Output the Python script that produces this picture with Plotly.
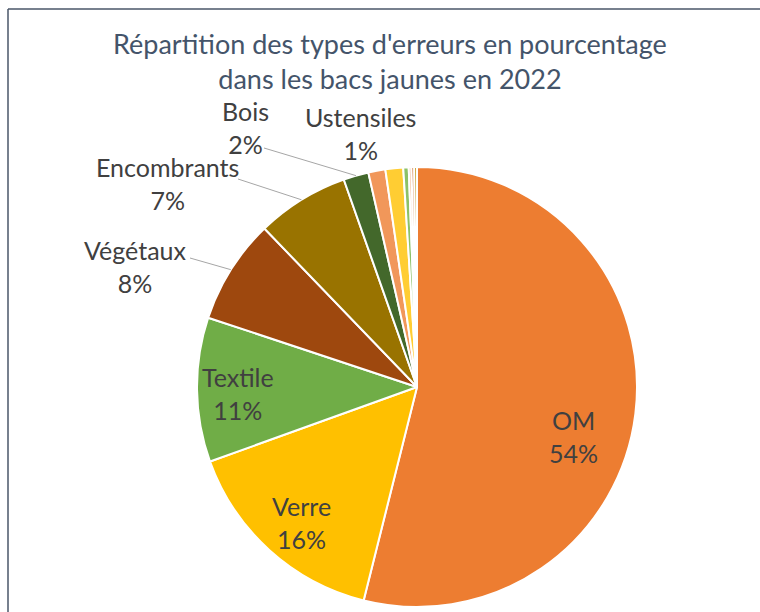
import math
import plotly.graph_objects as go

# ---- data ----
categories = ["OM", "Verre", "Textile", "Végétaux", "Encombrants", "Bois",
              "Ustensiles", "Autre 1", "Autre 2", "Autre 3", "Autre 4", "Autre 5"]
values = [53.9, 15.6, 10.6, 7.7, 6.8, 1.85, 1.25, 1.3, 0.4, 0.2, 0.2, 0.2]
labelled = ["OM", "Verre", "Textile", "Végétaux", "Encombrants", "Bois", "Ustensiles"]
title_lines = ["Répartition des types d'erreurs en pourcentage",
               "dans les bacs jaunes en 2022"]

# ---- style ----
W, H = 760, 612
colors = ["#ED7D31", "#FFC000", "#70AD47", "#9E480E", "#997300", "#43682B",
          "#F1975A", "#FFCD33", "#8CC168", "#F4B183", "#C55A11", "#BF9000"]
FONT = "Lato"
CX, CY, R = 417, 387, 220          # pie centre / radius in px
# label anchor positions (px) and leader-line start (px) for labelled slices
label_pos = {"OM": (573, 436), "Verre": (301, 522), "Textile": (238, 393),
             "Végétaux": (135, 266), "Encombrants": (167, 183),
             "Bois": (245, 127), "Ustensiles": (360, 133)}
leader_start = {"Végétaux": (190, 258), "Encombrants": (238, 179),
                "Bois": (264, 148)}


def px(x):
    return x / W


def py(y):
    return 1 - y / H


total = sum(values)
pct = [round(v / total * 100) for v in values]

fig = go.Figure(go.Pie(
    labels=categories, values=values, sort=False, direction="clockwise",
    rotation=0, textinfo="none", hole=0,
    marker=dict(colors=colors, line=dict(color="white", width=2)),
    domain=dict(x=[px(CX - R), px(CX + R)], y=[py(CY + R), py(CY - R)]),
    showlegend=False,
))

annotations = []
shapes = []
cum = 0.0
for cat, v, p in zip(categories, values, pct):
    mid = (cum + v / 2) / total * 2 * math.pi
    cum += v
    if cat not in labelled:
        continue
    lx, ly = label_pos[cat]
    annotations.append(dict(
        x=px(lx), y=py(ly), xref="paper", yref="paper", showarrow=False,
        xanchor="center", yanchor="middle", align="center",
        text=f"{cat}<br>{p}%", font=dict(family=FONT, size=25, color="#404040")))
    if cat in leader_start:
        sx, sy = leader_start[cat]
        ex = CX + R * math.sin(mid)
        ey = CY - R * math.cos(mid)
        shapes.append(dict(type="line", xref="paper", yref="paper",
                           x0=px(sx), y0=py(sy), x1=px(ex), y1=py(ey),
                           line=dict(color="#A6A6A6", width=1)))

annotations.append(dict(
    x=px(390), y=py(61), xref="paper", yref="paper", showarrow=False,
    xanchor="center", yanchor="middle", align="center",
    text="<br>".join(title_lines),
    font=dict(family=FONT, size=27, color="#44546A")))

# chart-area border (top and left edges visible)
shapes.append(dict(type="line", xref="paper", yref="paper",
                   x0=px(8), y0=py(9), x1=1.0, y1=py(9),
                   line=dict(color="#4A5668", width=1.5)))
shapes.append(dict(type="line", xref="paper", yref="paper",
                   x0=px(8), y0=0.0, x1=px(8), y1=py(9),
                   line=dict(color="#4A5668", width=1.5)))

fig.update_layout(
    width=W, height=H, margin=dict(l=0, r=0, t=0, b=0),
    paper_bgcolor="white", plot_bgcolor="white",
    annotations=annotations, shapes=shapes,
    font=dict(family=FONT),
)

fig.write_html(
    "out.html",
    config={"displayModeBar": False},
    post_script="document.body.style.margin='0';document.body.style.overflow='hidden';",
)
